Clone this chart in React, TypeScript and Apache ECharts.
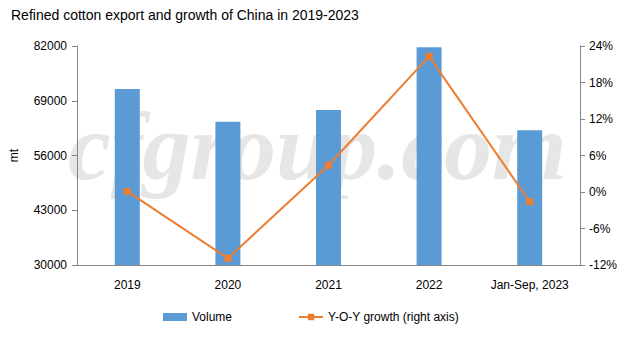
import React, { useEffect, useRef } from "react";
import * as echarts from "echarts";

const categories = ["2019", "2020", "2021", "2022", "Jan-Sep, 2023"];
const volume = [71800, 64000, 66800, 81700, 62000];
const growth = [0.1, -10.9, 4.4, 22.3, -1.6];
const leftTicks = [30000, 43000, 56000, 69000, 82000];
const rightTicks = [-12, -6, 0, 6, 12, 18, 24];

const FONT = "'Liberation Sans', Arial, sans-serif";

export default function App() {
  const ref = useRef<HTMLDivElement>(null);
  useEffect(() => {
    const chart = echarts.init(ref.current!, null, { renderer: "svg" });
    chart.setOption({
      animation: false,
      backgroundColor: "#ffffff",
      textStyle: { fontFamily: FONT },
      title: {
        text: "Refined cotton export and growth of China in 2019-2023",
        left: 6,
        top: 3,
        textStyle: { fontSize: 14, fontWeight: "normal", color: "#000000", fontFamily: FONT },
      },
      graphic: [
        {
          type: "text",
          left: 68,
          top: 98,
          z: -10,
          silent: true,
          style: {
            text: "cfgroup.com",
            font: "italic bold 96px 'Liberation Serif', serif",
            fill: "#e6e6e6",
          },
        },
      ],
      grid: { left: 75, right: 60, top: 46, bottom: 73 },
      legend: {
        bottom: 10,
        left: 158,
        itemGap: 66,
        itemWidth: 24,
        itemHeight: 8,
        textStyle: { fontSize: 12, color: "#000000", fontFamily: FONT },
        data: [
          { name: "Volume", icon: "rect" },
          { name: "Y-O-Y growth (right axis)" },
        ],
      },
      xAxis: {
        type: "category",
        data: categories,
        axisLine: { onZero: false, lineStyle: { color: "#868686" } },
        axisTick: { show: false },
        axisLabel: { color: "#000000", fontSize: 12, margin: 14, interval: 0 },
      },
      yAxis: [
        {
          type: "value",
          min: leftTicks[0],
          max: leftTicks[leftTicks.length - 1],
          interval: 13000,
          name: "mt",
          nameLocation: "middle",
          nameGap: 57,
          nameTextStyle: { color: "#000000", fontSize: 12 },
          splitLine: { show: false },
          axisLine: { show: true, lineStyle: { color: "#868686" } },
          axisTick: { show: true, length: 5, lineStyle: { color: "#868686" } },
          axisLabel: { color: "#000000", fontSize: 12, margin: 10, formatter: (v: number) => String(v) },
        },
        {
          type: "value",
          min: rightTicks[0],
          max: rightTicks[rightTicks.length - 1],
          interval: 6,
          position: "right",
          splitLine: { show: false },
          axisLine: { show: true, lineStyle: { color: "#868686" } },
          axisTick: { show: true, length: 5, lineStyle: { color: "#868686" } },
          axisLabel: { color: "#000000", fontSize: 12, margin: 9, formatter: "{value}%" },
        },
      ],
      series: [
        {
          name: "Volume",
          type: "bar",
          data: volume,
          barWidth: 25,
          itemStyle: { color: "#5B9BD5" },
        },
        {
          name: "Y-O-Y growth (right axis)",
          type: "line",
          yAxisIndex: 1,
          data: growth,
          symbol: "rect",
          symbolSize: 7,
          lineStyle: { color: "#ED7D31", width: 2 },
          itemStyle: { color: "#ED7D31" },
        },
      ],
    });
    return () => chart.dispose();
  }, []);
  return (
    <div
      ref={ref}
      style={{ position: "fixed", left: 0, top: 0, width: 640, height: 338 }}
    />
  );
}
